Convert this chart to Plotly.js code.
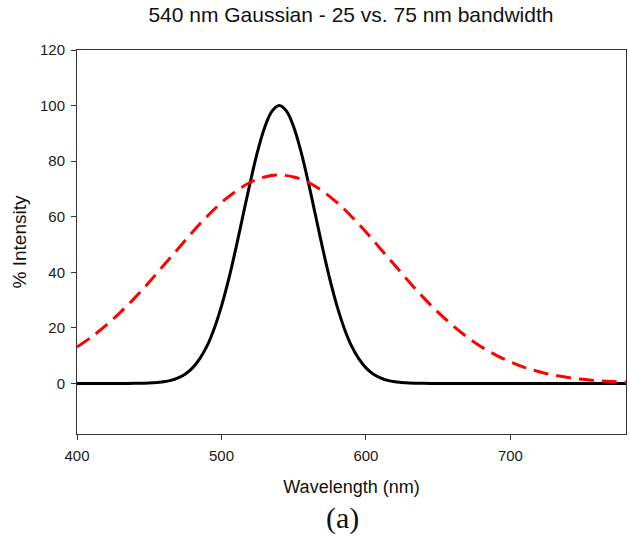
<!DOCTYPE html>
<html>
<head>
<meta charset="utf-8">
<script src="https://cdn.plot.ly/plotly-3.0.1.min.js"></script>
<style>html,body{margin:0;padding:0;background:#fff;}#chart{width:630px;height:536px;}</style>
</head>
<body>
<div id="chart"></div>
<script>
// Black curve (25 nm bandwidth)
const narrowX = [400,410,420,430,440,450,460,465,470,475,480,485,490,495,500,505,510,515,520,525,530,535,540,545,550,555,560,565,570,575,580,585,590,595,600,605,610,615,620,630,640,650,660,670,680,690,700,710,720,730,740,750,760,770,780];
const narrowY = [0,0,0,0,0.03,0.15,0.6,1.1,2.0,3.4,5.6,8.9,13.5,19.8,27.8,37.5,48.7,60.7,72.6,83.5,92.3,98.0,100,98.0,92.3,83.5,72.6,60.7,48.7,37.5,27.8,19.8,13.5,8.9,5.6,3.4,2.0,1.1,0.6,0.15,0.03,0,0,0,0,0,0,0,0,0,0,0,0,0,0];
// Red dashed curve (75 nm bandwidth)
const wideX = [400,410,420,430,440,450,460,470,480,490,500,510,520,530,540,550,560,570,580,590,600,610,620,630,640,650,660,670,680,690,700,710,720,730,740,750,760,770,780];
const wideY = [13.1,16.7,20.9,25.6,30.8,36.5,42.5,48.5,54.5,60.1,65.1,69.2,72.4,74.3,75,74.3,72.4,69.2,65.1,60.1,54.5,48.5,42.5,36.5,30.8,25.6,20.9,16.7,13.1,10.2,7.7,5.7,4.2,3.0,2.1,1.5,1.0,0.7,0.45];
const xTicks = [400,500,600,700];
const yTicks = [0,20,40,60,80,100,120];

const traces = [
  {x: narrowX, y: narrowY, type: 'scatter', mode: 'lines',
   line: {color: '#000000', width: 3, shape: 'spline', smoothing: 1}, showlegend: false, hoverinfo: 'skip'},
  {x: wideX, y: wideY, type: 'scatter', mode: 'lines',
   line: {color: '#ff0000', width: 3, dash: '15px,8px', shape: 'spline', smoothing: 1}, showlegend: false, hoverinfo: 'skip'}
];

const sans = 'Liberation Sans, Arial, sans-serif';
const axisCommon = {
  showgrid: false, zeroline: false, showline: true, mirror: true,
  linecolor: '#333', linewidth: 1, ticks: 'outside', ticklen: 5, tickwidth: 1, tickcolor: '#333',
  tickfont: {family: sans, size: 15, color: '#1a1a1a'}
};

const layout = {
  width: 630, height: 536,
  margin: {l: 77, r: 4, t: 50, b: 102},
  paper_bgcolor: '#fff', plot_bgcolor: '#fff',
  title: {text: '540 nm Gaussian - 25 vs. 75 nm bandwidth', x: 0.557, xanchor: 'center', y: 0.972, yanchor: 'middle',
          font: {family: sans, size: 21, color: '#111'}},
  xaxis: Object.assign({}, axisCommon, {range: [400, 780], tickvals: xTicks, ticktext: xTicks.map(String), ticklabelstandoff: 3,
          title: {text: 'Wavelength (nm)', standoff: 17, font: {family: sans, size: 18, color: '#111'}}}),
  yaxis: Object.assign({}, axisCommon, {range: [-18.2, 120], tickvals: yTicks, ticktext: yTicks.map(String), ticklabelstandoff: 3,
          title: {text: '% Intensity', standoff: 8, font: {family: sans, size: 19, color: '#111'}}}),
  annotations: [{text: '(a)', xref: 'paper', yref: 'paper', x: 0.483, y: -0.22, xanchor: 'center', yanchor: 'middle',
                 showarrow: false, font: {family: 'Liberation Serif, Times New Roman, serif', size: 30, color: '#111'}}]
};

Plotly.newPlot('chart', traces, layout, {displayModeBar: false, staticPlot: true});
</script>
</body>
</html>
